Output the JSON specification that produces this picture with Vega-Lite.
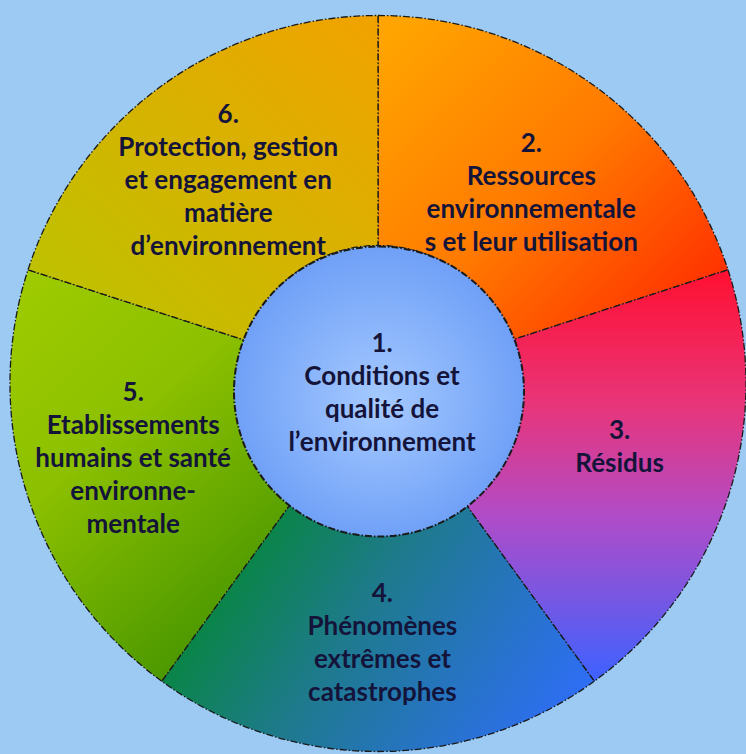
{
  "$schema": "https://vega.github.io/schema/vega-lite/v6.json",
  "width": 746,
  "height": 754,
  "padding": 0,
  "autosize": {"type": "fit", "contains": "padding"},
  "background": "#9ccaf2",
  "config": {
    "view": {
      "stroke": null,
      "fill": {
        "gradient": "linear", "x1": 0, "y1": 0, "x2": 1, "y2": 1,
        "stops": [
          {"offset": 0, "color": "#80bbec"},
          {"offset": 0.5, "color": "#a3cff6"},
          {"offset": 1, "color": "#97bfe3"}
        ]
      }
    },
    "text": {"font": "Lato", "fontWeight": "bold", "fontSize": 26, "lineHeight": 33, "lineBreak": "\n", "align": "center", "baseline": "middle", "color": "#14143a"},
    "arc": {"stroke": "#1a1a1a", "strokeWidth": 1.3, "strokeDash": [7, 2, 1.5, 2]}
  },
  "data": {
    "values": [
      {"id": 1, "share": 1, "label": "1.\nConditions et\nqualité de\nl’environnement"},
      {"id": 2, "share": 1, "label": "2.\nRessources\nenvironnementale\ns et leur utilisation"},
      {"id": 3, "share": 1, "label": "3.\nRésidus"},
      {"id": 4, "share": 1, "label": "4.\nPhénomènes\nextrêmes et\ncatastrophes"},
      {"id": 5, "share": 1, "label": "5.\nEtablissements\nhumains et santé\nenvironne-\nmentale"},
      {"id": 6, "share": 1, "label": "6.\nProtection, gestion\net engagement en\nmatière\nd’environnement"}
    ]
  },
  "transform": [
    {"filter": "datum.id > 1"},
    {"stack": "share", "groupby": [], "sort": [{"field": "id", "order": "ascending"}], "as": ["t0", "t1"]}
  ],
  "encoding": {
    "theta": {"field": "t0", "type": "quantitative", "scale": {"domain": [0, 5]}}
  },
  "layer": [
    {
      "transform": [{"filter": "datum.id == 2"}],
      "mark": {"type": "arc", "radius": 368, "radius2": 138, "xOffset": 8, "yOffset": 7,
        "color": {"gradient": "linear", "x1": 0.1, "y1": 0, "x2": 1, "y2": 0.85,
          "stops": [{"offset": 0, "color": "#ffa400"}, {"offset": 0.5, "color": "#ff7a00"}, {"offset": 1, "color": "#ff2c00"}]}},
      "encoding": {"theta2": {"field": "t1"}}
    },
    {
      "transform": [{"filter": "datum.id == 3"}],
      "mark": {"type": "arc", "radius": 368, "radius2": 138, "xOffset": 8, "yOffset": 7,
        "color": {"gradient": "linear", "x1": 0, "y1": 0, "x2": 0, "y2": 1,
          "stops": [{"offset": 0, "color": "#ff1030"}, {"offset": 0.33, "color": "#e8357a"}, {"offset": 0.6, "color": "#b04cc8"}, {"offset": 1, "color": "#3d62ff"}]}},
      "encoding": {"theta2": {"field": "t1"}}
    },
    {
      "transform": [{"filter": "datum.id == 4"}],
      "mark": {"type": "arc", "radius": 368, "radius2": 138, "xOffset": 8, "yOffset": 7,
        "color": {"gradient": "linear", "x1": 0, "y1": 0.3, "x2": 1, "y2": 0.7,
          "stops": [{"offset": 0, "color": "#008a26"}, {"offset": 0.45, "color": "#1e7a8c"}, {"offset": 1, "color": "#2e6ef4"}]}},
      "encoding": {"theta2": {"field": "t1"}}
    },
    {
      "transform": [{"filter": "datum.id == 5"}],
      "mark": {"type": "arc", "radius": 368, "radius2": 138, "xOffset": 8, "yOffset": 7,
        "color": {"gradient": "linear", "x1": 0, "y1": 0, "x2": 0.6, "y2": 1,
          "stops": [{"offset": 0, "color": "#a0cc00"}, {"offset": 0.45, "color": "#8cc000"}, {"offset": 1, "color": "#489600"}]}},
      "encoding": {"theta2": {"field": "t1"}}
    },
    {
      "transform": [{"filter": "datum.id == 6"}],
      "mark": {"type": "arc", "radius": 368, "radius2": 138, "xOffset": 8, "yOffset": 7,
        "color": {"gradient": "linear", "x1": 0, "y1": 1, "x2": 1, "y2": 0,
          "stops": [{"offset": 0, "color": "#b8c400"}, {"offset": 0.5, "color": "#d4b400"}, {"offset": 1, "color": "#f2a200"}]}},
      "encoding": {"theta2": {"field": "t1"}}
    },
    {
      "data": {"values": [{"id": 1}]},
      "transform": [],
      "mark": {"type": "arc", "theta": 0, "theta2": 6.2832, "radius": 145, "xOffset": 9, "yOffset": 15, "strokeWidth": 2,
        "color": {"gradient": "radial", "x1": 0.5, "y1": 0.55, "r1": 0, "x2": 0.5, "y2": 0.5, "r2": 0.55,
          "stops": [{"offset": 0, "color": "#a6caff"}, {"offset": 1, "color": "#6a9cf6"}]}},
      "encoding": {"theta": null}
    },
    {
      "transform": [{"filter": "datum.id == 2"}],
      "mark": {"type": "text", "radius": 249, "thetaOffset": 0.663, "xOffset": 8, "yOffset": 11, "dy": -47},
      "encoding": {"text": {"field": "label"}}
    },
    {
      "transform": [{"filter": "datum.id == 3"}],
      "mark": {"type": "text", "radius": 248, "thetaOffset": 0.541, "xOffset": 8, "yOffset": 11, "dy": -12},
      "encoding": {"text": {"field": "label"}}
    },
    {
      "transform": [{"filter": "datum.id == 4"}],
      "mark": {"type": "text", "radius": 252, "thetaOffset": 0.611, "xOffset": 8, "yOffset": 11, "dy": -45},
      "encoding": {"text": {"field": "label"}}
    },
    {
      "transform": [{"filter": "datum.id == 5"}],
      "mark": {"type": "text", "radius": 258, "thetaOffset": 0.675, "xOffset": 12, "yOffset": 11, "dy": -63},
      "encoding": {"text": {"field": "label"}}
    },
    {
      "transform": [{"filter": "datum.id == 6"}],
      "mark": {"type": "text", "radius": 258, "thetaOffset": 0.623, "xOffset": 11, "yOffset": 11, "dy": -65},
      "encoding": {"text": {"field": "label"}}
    },
    {
      "data": {"values": [{"id": 1, "label": "1.\nConditions et\nqualité de\nl’environnement"}]},
      "transform": [],
      "mark": {"type": "text", "xOffset": 12, "yOffset": 13, "dy": -46},
      "encoding": {"theta": null, "text": {"field": "label"}}
    }
  ]
}
